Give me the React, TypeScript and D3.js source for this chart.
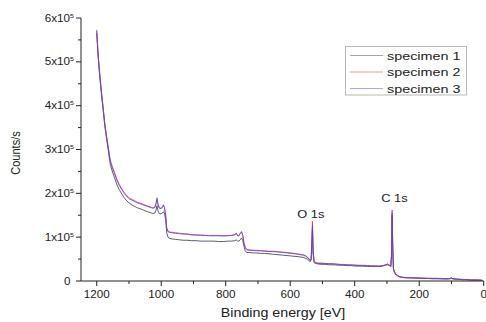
import React from "react";
import * as d3 from "d3";

// Binding energy (eV), descending
const energy: number[] = [
  1200, 1196, 1192, 1188, 1184, 1180, 1175, 1170, 1164, 1158,
  1152, 1145, 1138, 1130, 1122, 1114, 1106, 1098, 1090, 1082,
  1074, 1066, 1058, 1050, 1042, 1034, 1026, 1020, 1016, 1013,
  1010, 1006, 1001, 996, 993, 990, 986, 983, 979, 974,
  966, 956, 944, 932, 920, 906, 892, 878, 864, 850,
  836, 822, 808, 794, 782, 772, 767, 763, 759, 755,
  751, 747, 743, 739, 734, 726, 716, 704, 692, 680,
  666, 652, 638, 624, 610, 596, 582, 570, 560, 553,
  547, 542, 538, 535, 533, 531, 529, 526, 521, 514,
  504, 492, 478, 464, 450, 436, 422, 408, 396, 384,
  372, 360, 348, 336, 324, 314, 305, 298, 292, 288,
  286, 284, 282, 280, 277, 273, 269, 265, 260, 252,
  242, 230, 216, 202, 188, 174, 160, 146, 132, 120,
  110, 104, 100, 96, 90, 80, 66, 52, 38, 24,
  12, 4,
];

// Counts/s in thousands
const specimen1: number[] = [
  565, 515, 477, 446, 416, 390, 354, 327, 297, 266,
  251, 236, 221, 208, 198, 189, 182, 177, 173, 170,
  167, 165, 163, 160, 158, 156, 154, 155, 162, 172,
  160, 154, 153, 155, 158, 155, 138, 110, 100, 97,
  96, 95, 94, 93, 93, 92, 92, 91, 91, 91,
  91, 90, 90, 91, 91, 92, 94, 91, 91, 94,
  98, 92, 78, 68, 65, 65, 64, 64, 63, 63,
  62, 61, 60, 59, 58, 57, 56, 55, 54, 52,
  50, 47, 44, 48, 80, 120, 62, 42, 40, 39,
  38, 38, 37, 37, 36, 36, 35, 35, 34, 34,
  34, 33, 33, 33, 33, 34, 36, 38, 36, 33,
  55, 150, 74, 28, 20, 15, 13, 11, 9, 8,
  7, 7, 7, 6, 6, 6, 5, 5, 5, 5,
  5, 5, 6, 5, 4, 4, 3, 3, 2, 2,
  2, 1,
];

const specimen2: number[] = [
  570, 520, 482, 452, 422, 396, 360, 334, 305, 276,
  262, 248, 233, 220, 210, 201, 194, 189, 186, 183,
  180, 178, 176, 173, 171, 169, 167, 168, 176, 186,
  174, 167, 166, 168, 172, 168, 150, 122, 114, 112,
  111, 110, 109, 108, 107, 106, 105, 105, 104, 104,
  104, 104, 103, 104, 104, 106, 108, 104, 104, 108,
  111, 104, 86, 76, 72, 71, 70, 70, 69, 69,
  68, 68, 67, 66, 65, 64, 62, 61, 60, 58,
  55, 51, 47, 52, 92, 136, 70, 46, 42, 41,
  41, 40, 40, 39, 38, 38, 37, 37, 36, 36,
  36, 35, 35, 35, 34, 35, 36, 37, 35, 34,
  60, 162, 80, 30, 22, 16, 14, 12, 10, 9,
  8, 8, 7, 7, 7, 6, 6, 6, 6, 5,
  5, 6, 7, 5, 5, 4, 4, 3, 3, 3,
  2, 2,
];

const specimen3: number[] = [
  573, 523, 484, 450, 420, 393, 357, 331, 302, 273,
  259, 245, 231, 218, 208, 199, 192, 187, 184, 181,
  178, 176, 174, 172, 170, 168, 166, 167, 178, 190,
  176, 166, 165, 169, 174, 167, 148, 120, 112, 111,
  110, 109, 108, 107, 107, 105, 105, 104, 104, 103,
  103, 103, 103, 103, 104, 105, 109, 103, 103, 109,
  113, 103, 84, 75, 71, 70, 70, 69, 69, 68,
  67, 67, 66, 65, 64, 63, 62, 60, 59, 57,
  54, 50, 46, 51, 88, 128, 68, 45, 41, 40,
  40, 40, 39, 39, 38, 37, 37, 36, 36, 35,
  35, 35, 34, 34, 34, 35, 37, 39, 36, 34,
  58, 155, 78, 29, 21, 16, 13, 11, 10, 8,
  8, 7, 7, 7, 6, 6, 6, 6, 5, 5,
  5, 6, 8, 5, 5, 4, 3, 3, 2, 2,
  2, 1,
];

const seriesNames: string[] = ["specimen 1", "specimen 2", "specimen 3"];
const seriesColors: string[] = ["#2b2b45", "#e8323c", "#4646f0"];
const legendColors: string[] = ["#8a8aa0", "#f07878", "#9a8cf0"];

const xMajorTicks: number[] = [1200, 1000, 800, 600, 400, 200, 0];
const xMinorTicks: number[] = [1100, 900, 700, 500, 300, 100];
const yMajorTicks: number[] = [0, 1, 2, 3, 4, 5, 6];
const yMinorTicks: number[] = [0.5, 1.5, 2.5, 3.5, 4.5, 5.5];

const peakLabels: { text: string; energy: number; value: number }[] = [
  { text: "O 1s", energy: 536, value: 144 },
  { text: "C 1s", energy: 277, value: 181 },
];

const FONT = "'Liberation Sans', Arial, sans-serif";
const SX = 1.17;

export default function App() {
  const x = d3.scaleLinear().domain([1250, 0]).range([80.6, 483.7]);
  const y = d3.scaleLinear().domain([0, 600]).range([281, 18]);
  const all = [specimen1, specimen2, specimen3];
  const n = Math.min(energy.length, ...all.map((s) => s.length));
  const line = d3
    .line<number>()
    .x((_, i) => x(energy[i]))
    .y((v) => y(v));

  const axisColor = "#222";
  const legendRows = [55.5, 72, 88.5];

  return (
    <svg
      width={486}
      height={322}
      style={{ position: "absolute", left: 0, top: 0, background: "#fff" }}
      fontFamily={FONT}
    >
      <rect x={0} y={0} width={486} height={322} fill="#fff" />
      {all.map((s, k) => (
        <path
          key={k}
          d={line(s.slice(0, n)) || ""}
          fill="none"
          stroke={seriesColors[k]}
          strokeWidth={0.85}
          strokeLinejoin="round"
          opacity={0.9}
        />
      ))}

      {/* axes */}
      <line x1={81} x2={81} y1={y(600)} y2={281} stroke={axisColor} strokeWidth={1} />
      <line x1={81} x2={x(0)} y1={281} y2={281} stroke={axisColor} strokeWidth={1} />
      {xMajorTicks.map((t) => (
        <g key={"xm" + t}>
          <line x1={x(t)} x2={x(t)} y1={281} y2={286} stroke={axisColor} />
          <text
            transform={`translate(${x(t)},298) scale(${SX},1)`}
            textAnchor="middle"
            fontSize={10}
            fill="#222"
          >
            {t}
          </text>
        </g>
      ))}
      {xMinorTicks.map((t) => (
        <line key={"xn" + t} x1={x(t)} x2={x(t)} y1={281} y2={284} stroke={axisColor} />
      ))}
      {yMajorTicks.map((t) => (
        <g key={"ym" + t}>
          <line x1={76} x2={81} y1={y(t * 100)} y2={y(t * 100)} stroke={axisColor} />
          <text
            transform={`translate(${t === 0 ? 70.5 : 74},${y(t * 100) + 3.5}) scale(${SX},1)`}
            textAnchor="end"
            fontSize={10}
            fill="#222"
          >
            {t === 0 ? (
              "0"
            ) : (
              <>
                {t}x10
                <tspan fontSize={6} dy={-4}>
                  5
                </tspan>
              </>
            )}
          </text>
        </g>
      ))}
      {yMinorTicks.map((t) => (
        <line key={"yn" + t} x1={78} x2={81} y1={y(t * 100)} y2={y(t * 100)} stroke={axisColor} />
      ))}

      {/* axis titles */}
      <text
        transform={`translate(283,317) scale(${SX},1)`}
        textAnchor="middle"
        fontSize={12.2}
        fill="#222"
      >
        Binding energy [eV]
      </text>
      <text
        transform={`translate(19.5,153) scale(${SX},1) rotate(-90)`}
        textAnchor="middle"
        fontSize={11}
        fill="#222"
      >
        Counts/s
      </text>

      {/* peak labels */}
      {peakLabels.map((p) => (
        <text
          key={p.text}
          transform={`translate(${x(p.energy)},${y(p.value)}) scale(${SX},1)`}
          textAnchor="middle"
          fontSize={11}
          fill="#222"
        >
          {p.text}
        </text>
      ))}

      {/* legend */}
      <rect x={345.5} y={46.5} width={121} height={48.5} fill="#fff" stroke="#a8a8a8" strokeWidth={0.8} />
      {seriesNames.map((name, k) => (
        <g key={name}>
          <line
            x1={350}
            x2={383}
            y1={legendRows[k]}
            y2={legendRows[k]}
            stroke={legendColors[k]}
            strokeWidth={0.8}
          />
          <text
            transform={`translate(387,${legendRows[k] + 4}) scale(1.26,1)`}
            fontSize={11.4}
            fill="#222"
          >
            {name}
          </text>
        </g>
      ))}
    </svg>
  );
}
